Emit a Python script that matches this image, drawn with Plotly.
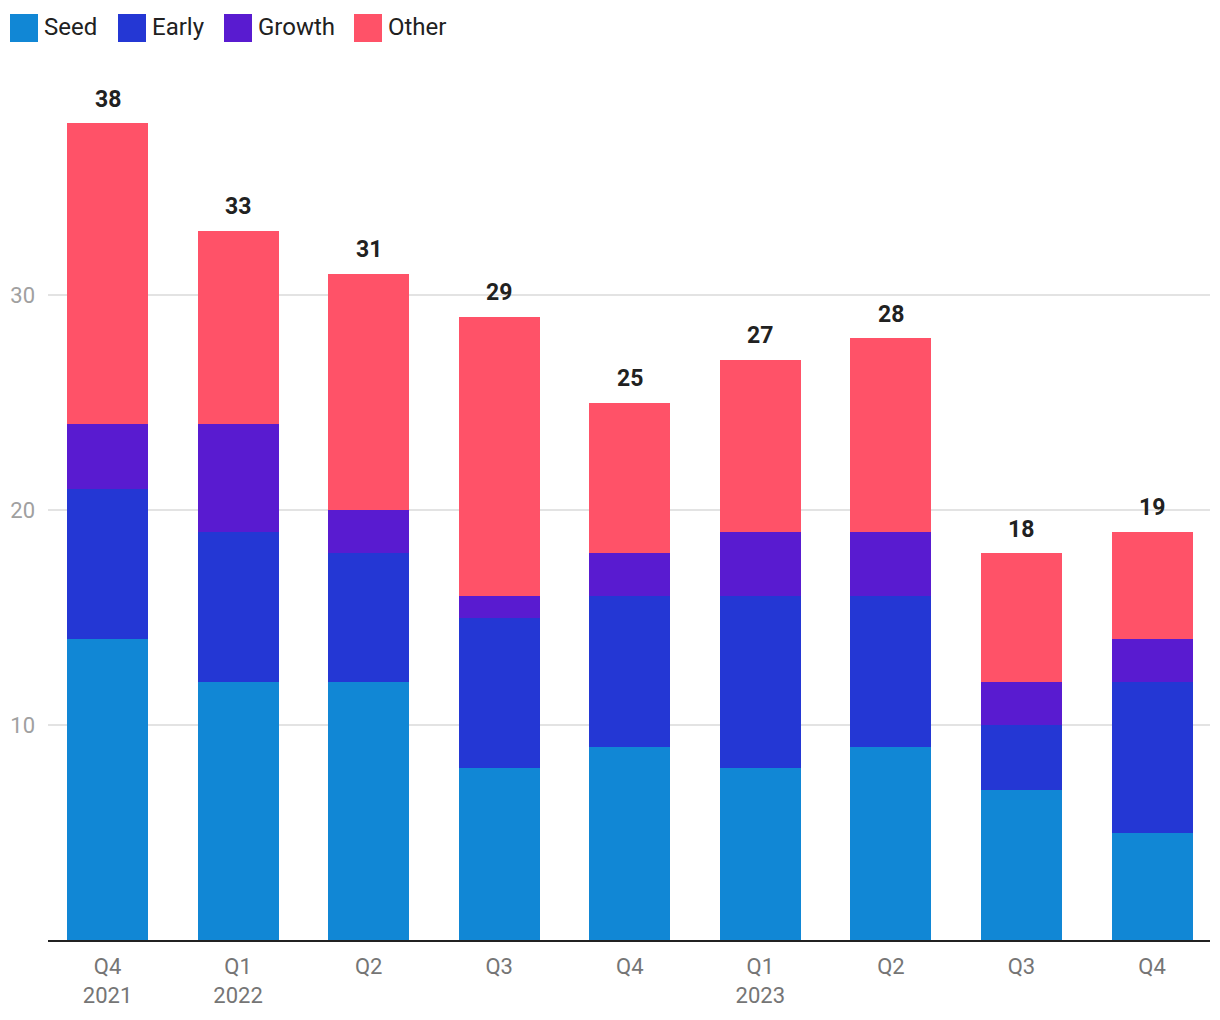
import plotly.graph_objects as go

quarters = ["Q4<br>2021", "Q1<br>2022", "Q2", "Q3", "Q4", "Q1<br>2023", "Q2", "Q3", "Q4"]
seed = [14, 12, 12, 8, 9, 8, 9, 7, 5]
early = [7, 7, 6, 7, 7, 8, 7, 3, 7]
growth = [3, 5, 2, 1, 2, 3, 3, 2, 2]
other = [14, 9, 11, 13, 7, 8, 9, 6, 5]

series_names = ["Seed", "Early", "Growth", "Other"]
series_vals = [seed, early, growth, other]
colors = ["#1187D5", "#2437D4", "#591BD0", "#FF5268"]

x = list(range(len(quarters)))
totals = [sum(v) for v in zip(seed, early, growth, other)]

FONT = "Roboto"
fig = go.Figure()
for name, vals, col in zip(series_names, series_vals, colors):
    fig.add_trace(go.Bar(x=x, y=vals, name=name, marker=dict(color=col, line=dict(width=0)),
                         width=0.62, showlegend=False, hoverinfo="y+name"))

for xi, t in zip(x, totals):
    fig.add_annotation(x=xi, y=t, text=f"<b>{t}</b>", showarrow=False, yanchor="middle",
                       yshift=24, font=dict(family=FONT, size=23, color="#212121"))

# manual legend
sw_x = [10, 118, 224, 354]
for name, col, sx in zip(series_names, colors, sw_x):
    fig.add_shape(type="rect", xref="paper", yref="paper",
                  x0=(sx - 48) / 1162, x1=(sx + 28 - 48) / 1162,
                  y0=(1020 - 80 - 42) / 870, y1=(1020 - 80 - 14) / 870,
                  fillcolor=col, line=dict(width=0), layer="above")
    fig.add_annotation(xref="paper", yref="paper", x=(sx + 32 - 48) / 1162, y=(1020 - 80 - 27) / 870,
                       text=name, showarrow=False, xanchor="left", yanchor="middle",
                       font=dict(family=FONT, size=24, color="#212121"))

fig.update_layout(
    barmode="stack",
    width=1220, height=1020,
    margin=dict(l=48, r=10, t=70, b=80),
    paper_bgcolor="white", plot_bgcolor="white",
    font=dict(family=FONT),
    xaxis=dict(tickmode="array", tickvals=x, ticktext=quarters, range=[-0.456, 8.444],
               showgrid=False, showline=True, linecolor="#212121", linewidth=2,
               ticks="", ticklabelstandoff=6,
               tickfont=dict(family=FONT, size=22, color="#757575"), zeroline=False),
    yaxis=dict(range=[0, 40.47], tickvals=[10, 20, 30], showgrid=True, gridcolor="#E3E3E3",
               gridwidth=2, zeroline=False, showline=False, ticks="", ticklabelstandoff=12,
               tickfont=dict(family=FONT, size=22, color="#A0A0A0")),
)

fig.write_html("out.html")
